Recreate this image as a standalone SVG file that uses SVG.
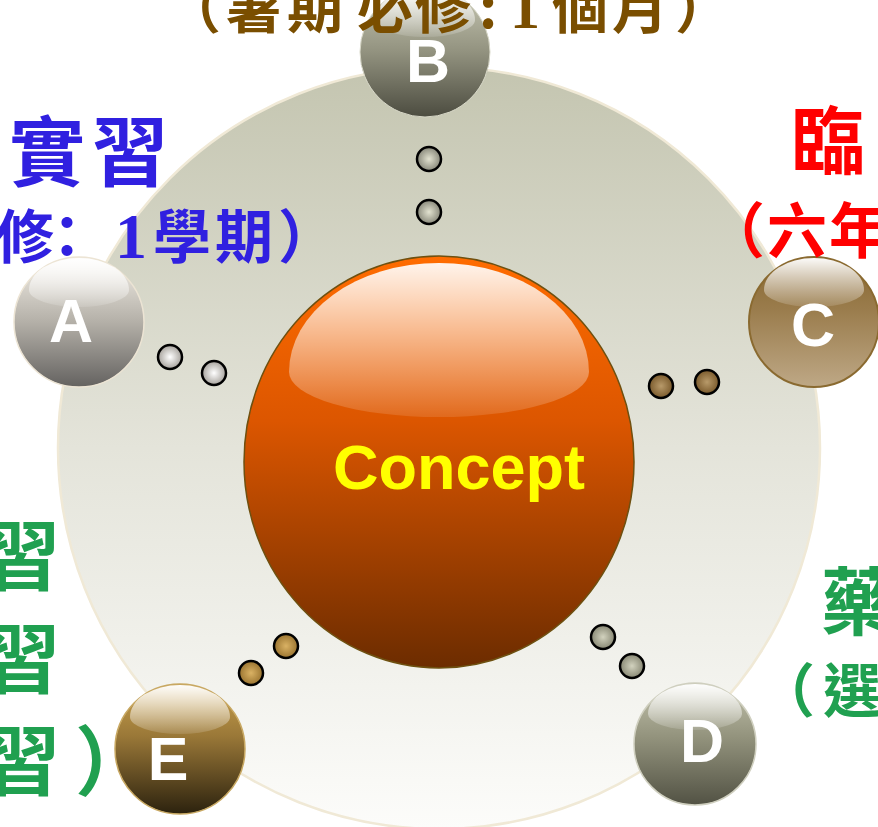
<svg xmlns="http://www.w3.org/2000/svg" width="878" height="827" viewBox="0 0 878 827">
<defs>
<linearGradient id="gBg" x1="0" y1="0" x2="0" y2="1"><stop offset="0" stop-color="#c4c5b0"/><stop offset="0.5" stop-color="#e4e4da"/><stop offset="1" stop-color="#fcfcfa"/></linearGradient>
<linearGradient id="gHi" x1="0" y1="0" x2="0" y2="1"><stop offset="0" stop-color="#ffffff" stop-opacity="0.97"/><stop offset="1" stop-color="#ffffff" stop-opacity="0.12"/></linearGradient>
<linearGradient id="gConcept" x1="0" y1="0" x2="0" y2="1"><stop offset="0" stop-color="#ff6c00"/><stop offset="0.4" stop-color="#dc5600"/><stop offset="1" stop-color="#6c2c00"/></linearGradient>
<linearGradient id="gA" x1="0" y1="0" x2="0" y2="1"><stop offset="0" stop-color="#f4f0e8"/><stop offset="0.5" stop-color="#b4b0a8"/><stop offset="1" stop-color="#646260"/></linearGradient>
<linearGradient id="gB" x1="0" y1="0" x2="0" y2="1"><stop offset="0" stop-color="#cacab6"/><stop offset="0.5" stop-color="#92927f"/><stop offset="1" stop-color="#4c4c40"/></linearGradient>
<linearGradient id="gC" x1="0" y1="0" x2="0" y2="1"><stop offset="0" stop-color="#86652e"/><stop offset="0.4" stop-color="#9a7c4c"/><stop offset="1" stop-color="#bea886"/></linearGradient>
<linearGradient id="gD" x1="0" y1="0" x2="0" y2="1"><stop offset="0" stop-color="#c4c4ae"/><stop offset="0.45" stop-color="#92927c"/><stop offset="1" stop-color="#525244"/></linearGradient>
<linearGradient id="gE" x1="0" y1="0" x2="0" y2="1"><stop offset="0" stop-color="#caa24e"/><stop offset="0.4" stop-color="#9a7838"/><stop offset="1" stop-color="#2c220e"/></linearGradient>
<radialGradient id="dA" cx="0.5" cy="0.5" r="0.5"><stop offset="0" stop-color="#ffffff"/><stop offset="1" stop-color="#a6a29c"/></radialGradient>
<radialGradient id="dB" cx="0.5" cy="0.5" r="0.5"><stop offset="0" stop-color="#e2e2d0"/><stop offset="1" stop-color="#88887a"/></radialGradient>
<radialGradient id="dC" cx="0.5" cy="0.5" r="0.5"><stop offset="0" stop-color="#b89a6a"/><stop offset="1" stop-color="#7a5a2c"/></radialGradient>
<radialGradient id="dD" cx="0.5" cy="0.5" r="0.5"><stop offset="0" stop-color="#d2d2be"/><stop offset="1" stop-color="#888874"/></radialGradient>
<radialGradient id="dE" cx="0.5" cy="0.5" r="0.5"><stop offset="0" stop-color="#dab264"/><stop offset="1" stop-color="#9a7430"/></radialGradient>
</defs>
<style>
.lt{font-family:"Liberation Sans",Arial,sans-serif;font-weight:bold;fill:#ffffff;text-anchor:middle;font-size:61px}
.dot{stroke:#000000;stroke-width:2.5}
.hi{fill:url(#gHi)}
.cjk{font-family:"Noto Sans CJK TC","Noto Sans CJK SC",sans-serif;font-weight:bold;text-anchor:middle}
.num{font-family:"Liberation Serif","Times New Roman",serif;font-weight:bold}
</style>
<rect x="0" y="0" width="878" height="827" fill="#ffffff"/>
<circle id="backdrop" cx="439" cy="448" r="381" fill="url(#gBg)" stroke="#f0e9d6" stroke-width="2.5"/>

<g id="connectors">
<circle class="dot" cx="170" cy="357" r="12" fill="url(#dA)"/>
<circle class="dot" cx="214" cy="373" r="12" fill="url(#dA)"/>
<circle class="dot" cx="429" cy="159" r="12" fill="url(#dB)"/>
<circle class="dot" cx="429" cy="212" r="12" fill="url(#dB)"/>
<circle class="dot" cx="661" cy="386" r="12" fill="url(#dC)"/>
<circle class="dot" cx="707" cy="382" r="12" fill="url(#dC)"/>
<circle class="dot" cx="603" cy="637" r="12" fill="url(#dD)"/>
<circle class="dot" cx="632" cy="666" r="12" fill="url(#dD)"/>
<circle class="dot" cx="286" cy="646" r="12" fill="url(#dE)"/>
<circle class="dot" cx="251" cy="673" r="12" fill="url(#dE)"/>
</g>

<g id="nodeA">
<circle cx="79" cy="322" r="65" fill="url(#gA)" stroke="#ece4d4" stroke-width="1.5"/>
<path class="hi" d="M29,290 A50,32 0 0 1 129,290 A50,17 0 0 1 29,290 Z"/>
<text class="lt" x="71" y="342">A</text>
</g>
<g id="nodeB">
<circle cx="425" cy="52" r="65" fill="url(#gB)" stroke="#d8d8c8" stroke-width="1"/>
<path class="hi" d="M375,20 A50,32 0 0 1 475,20 A50,17 0 0 1 375,20 Z"/>
<text class="lt" x="428" y="82">B</text>
</g>
<g id="nodeC">
<circle cx="814" cy="322" r="65" fill="url(#gC)" stroke="#8a6a30" stroke-width="2"/>
<path class="hi" d="M764,290 A50,32 0 0 1 864,290 A50,17 0 0 1 764,290 Z"/>
<text class="lt" x="813" y="346">C</text>
</g>
<g id="nodeD">
<circle cx="695" cy="744" r="61" fill="url(#gD)" stroke="#cfcfbf" stroke-width="1.5"/>
<path class="hi" d="M648,714 A47,30 0 0 1 742,714 A47,16 0 0 1 648,714 Z"/>
<text class="lt" x="702" y="762">D</text>
</g>
<g id="nodeE">
<circle cx="180" cy="749" r="65" fill="url(#gE)" stroke="#c8a862" stroke-width="1.5"/>
<path class="hi" d="M130,717 A50,32 0 0 1 230,717 A50,17 0 0 1 130,717 Z"/>
<text class="lt" x="168" y="780">E</text>
</g>
<g id="concept">
<ellipse cx="439" cy="462" rx="195" ry="206" fill="url(#gConcept)" stroke="#6e5010" stroke-width="1.5"/>
<path class="hi" d="M289,372 A150,109 0 0 1 589,372 A150,45 0 0 1 289,372 Z" opacity="0.95"/>
<text x="333" y="489" font-family="'Liberation Sans',Arial,sans-serif" font-weight="bold" font-size="63" fill="#ffff00">Concept</text>
</g>

<g id="labels">
<text class="cjk" font-size="56" fill="#7a4e00" y="28"><tspan x="193 254 315 385 443 488">（暑期必修:</tspan><tspan class="num" x="525" font-size="60">1</tspan><tspan x="580 640 703">個月）</tspan></text>
<text class="cjk" font-size="76" fill="#3020e0" x="47 130" y="180">實習</text>
<text class="cjk" font-size="58" fill="#3020e0" y="258"><tspan x="25 67">修：</tspan><tspan class="num" x="131" font-size="64">1</tspan><tspan x="182 244 307">學期）</tspan></text>
<text class="cjk" font-size="74" fill="#ff0000" x="828" y="168">臨</text>
<text class="cjk" font-size="60" fill="#ff0000" x="735 797 859" y="253">（六年</text>
<text class="cjk" font-size="74" fill="#20a050" x="858" y="629">藥</text>
<text class="cjk" font-size="58" fill="#20a050" x="786 852" y="712">（選</text>
<text class="cjk" font-size="76" fill="#20a050" x="22" y="584">習</text>
<text class="cjk" font-size="76" fill="#20a050" x="22" y="687">習</text>
<text class="cjk" font-size="76" fill="#20a050" x="22 113" y="789">習）</text>
</g>
</svg>
